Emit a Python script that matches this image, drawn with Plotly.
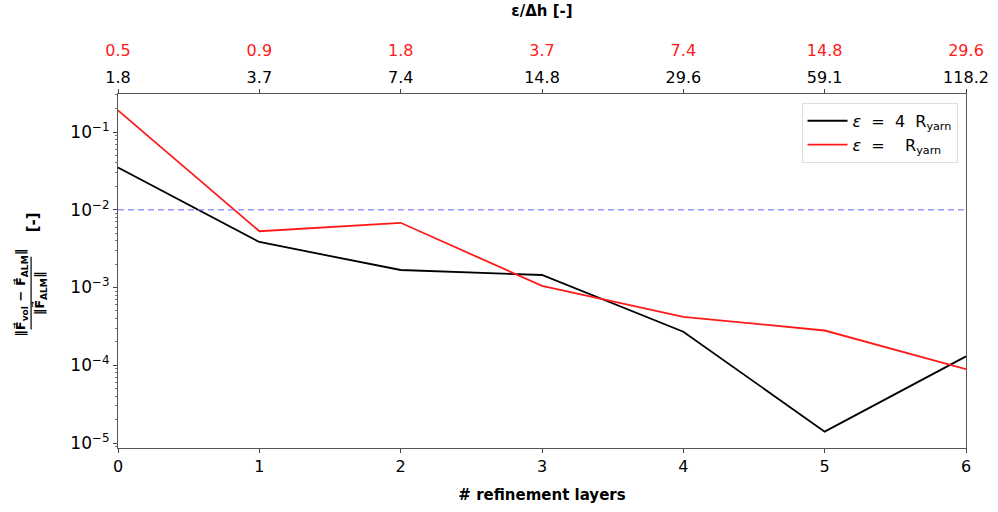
import plotly.graph_objects as go

layers = [0, 1, 2, 3, 4, 5, 6]
err_4r = [0.035, 0.00385, 0.00168, 0.00145, 0.00027, 1.4e-5, 1.3e-4]
err_1r = [0.19, 0.0053, 0.0068, 0.00105, 0.00042, 0.00028, 8.9e-5]
top_red = ["0.5", "0.9", "1.8", "3.7", "7.4", "14.8", "29.6"]
top_black = ["1.8", "3.7", "7.4", "14.8", "29.6", "59.1", "118.2"]
ref_level = 0.01
ytick_vals = [1e-5, 1e-4, 1e-3, 1e-2, 1e-1]
ytick_text = ["10<sup>−5</sup>", "10<sup>−4</sup>", "10<sup>−3</sup>", "10<sup>−2</sup>", "10<sup>−1</sup>"]

FONT = "DejaVu Sans"
RED = "#ff1a1a"
fig = go.Figure()
fig.add_trace(go.Scatter(x=layers, y=err_4r, mode="lines", line=dict(color="black", width=1.8),
                         name="<i>ε</i>  =  4  R<sub>yarn</sub>"))
fig.add_trace(go.Scatter(x=layers, y=err_1r, mode="lines", line=dict(color=RED, width=1.8),
                         name="<i>ε</i>  =    R<sub>yarn</sub>"))
fig.add_trace(go.Scatter(x=[layers[0], layers[-1]], y=[ref_level, ref_level], mode="lines",
                         line=dict(color="rgba(110,110,255,0.7)", width=1.3, dash="6px,4px"),
                         showlegend=False, hoverinfo="skip"))
# invisible traces for the top axes
fig.add_trace(go.Scatter(x=layers, y=err_4r, xaxis="x2", mode="lines", line=dict(width=0),
                         showlegend=False, hoverinfo="skip", opacity=0))
fig.add_trace(go.Scatter(x=layers, y=err_4r, xaxis="x3", mode="lines", line=dict(width=0),
                         showlegend=False, hoverinfo="skip", opacity=0))

fig.update_layout(
    width=998, height=512,
    margin=dict(l=118, r=32, t=94, b=64, autoexpand=False),
    plot_bgcolor="white", paper_bgcolor="white",
    font=dict(family=FONT, size=14, color="black"),
    xaxis=dict(range=[0, 6], tickvals=layers, ticks="outside", ticklen=4, tickcolor="#444",
               showgrid=False, zeroline=False, showline=True, linecolor="#555", linewidth=1.2,
               mirror=True, tickfont=dict(size=16, family=FONT), automargin=False,
               title=dict(text="<b># refinement layers</b>", font=dict(size=15, family=FONT), standoff=14)),
    xaxis2=dict(range=[0, 6], overlaying="x", side="top", tickvals=layers, ticktext=top_black,
                ticks="outside", ticklen=4, tickcolor="#444", showgrid=False, zeroline=False,
                automargin=False, tickfont=dict(size=16, family=FONT, color="black")),
    xaxis3=dict(range=[0, 6], overlaying="x", side="top", tickvals=layers, ticktext=top_red,
                ticks="", showgrid=False, zeroline=False, ticklabelstandoff=34, automargin=False,
                tickfont=dict(size=16, family=FONT, color=RED),
                title=dict(text="<b>ε/Δh [-]</b>", font=dict(size=15, family=FONT), standoff=20)),
    yaxis=dict(type="log", range=[-5.064, -0.511], tickvals=ytick_vals, ticktext=ytick_text,
               ticks="outside", ticklen=4, tickcolor="#444", showgrid=False, zeroline=False,
               showline=True, linecolor="#555", linewidth=1.2, mirror=True, automargin=False,
               tickfont=dict(size=17, family=FONT),
               minor=dict(ticks="outside", ticklen=2, tickcolor="#777", dtick="D1")),
    legend=dict(x=0.99, y=0.975, xanchor="right", yanchor="top", bgcolor="white",
                bordercolor="#dddddd", borderwidth=1, font=dict(size=16, family=FONT),
                tracegroupgap=6, itemwidth=40),
    showlegend=True,
)

# y-axis label as a rotated fraction
fig.add_annotation(xref="paper", yref="paper", x=-0.1135, y=0.438, xanchor="center", yanchor="middle",
                   text="<b>‖F⃗<sub>vol</sub> − F⃗<sub>ALM</sub>‖</b>", textangle=-90, showarrow=False,
                   font=dict(size=13, family=FONT))
fig.add_annotation(xref="paper", yref="paper", x=-0.0915, y=0.438, xanchor="center", yanchor="middle",
                   text="<b>‖F⃗<sub>ALM</sub>‖</b>", textangle=-90, showarrow=False,
                   font=dict(size=13, family=FONT))
fig.add_annotation(xref="paper", yref="paper", x=-0.100, y=0.638, xanchor="center", yanchor="middle",
                   text="<b>[-]</b>", textangle=-90, showarrow=False,
                   font=dict(size=15, family=FONT))
fig.add_shape(type="line", xref="paper", yref="paper", x0=-0.1025, x1=-0.1025, y0=0.335, y1=0.54,
              line=dict(color="black", width=1.2))

fig.write_html("out.html")
